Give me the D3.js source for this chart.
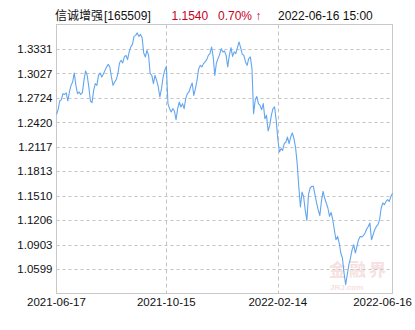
<!DOCTYPE html>
<html><head><meta charset="utf-8">
<script src="https://cdn.jsdelivr.net/npm/d3@7/dist/d3.min.js"></script>
<style>body{margin:0;background:#fff;overflow:hidden}</style>
</head><body>
<svg id="chart" width="415" height="330"></svg>
<script>
const fundName = "信诚增强";
const fundCode = "[165509]";
const latestValue = "1.1540";
const latestChange = "0.70% ↑";
const latestTime = "2022-06-16 15:00";

const yTickValues = [1.0599, 1.0903, 1.1206, 1.1510, 1.1813, 1.2117, 1.2420, 1.2724, 1.3027, 1.3331];
const xTickIndex = [0, 68, 137, 208];
const xTickLabels = ["2021-06-17", "2021-10-15", "2022-02-14", "2022-06-16"];

const navValues = [
1.2519,1.2577,1.2685,1.2702,1.2776,1.2767,1.2785,1.2685,1.2797,1.2879,
1.2921,1.3033,1.2879,1.2776,1.2797,1.2767,1.2785,1.2941,1.3058,1.3003,
1.2859,1.2685,1.2664,1.2817,1.2900,1.2879,1.3003,1.3033,1.2983,1.3016,
1.3065,1.3108,1.3140,1.3108,1.2983,1.2879,1.2921,1.2950,1.3024,1.3157,
1.3190,1.3157,1.3232,1.3252,1.3198,1.3294,1.3356,1.3388,1.3487,1.3500,
1.3530,1.3487,1.3512,1.3471,1.3281,1.3232,1.3314,1.3252,1.3024,1.3003,
1.2900,1.3003,1.2941,1.2859,1.2735,1.2838,1.2983,1.3065,1.3115,1.2652,
1.2590,1.2549,1.2590,1.2561,1.2453,1.2590,1.2673,1.2611,1.2652,1.2590,
1.2714,1.2776,1.2797,1.2859,1.2909,1.2755,1.2838,1.2941,1.3086,1.3127,
1.3108,1.3149,1.3170,1.3198,1.3252,1.3273,1.3356,1.3232,1.3003,1.3157,
1.3211,1.3264,1.3335,1.3294,1.3306,1.3252,1.3108,1.3252,1.3347,1.3239,
1.3294,1.3273,1.3347,1.3418,1.3347,1.3264,1.3252,1.3170,1.3127,1.3211,
1.3232,1.3086,1.2528,1.2693,1.2742,1.2652,1.2631,1.2577,1.2652,1.2466,
1.2507,1.2313,1.2382,1.2507,1.2590,1.2611,1.2445,1.2217,1.2052,1.2093,
1.2072,1.2155,1.2176,1.2238,1.2155,1.2238,1.2288,1.2217,1.2106,1.1907,
1.1618,1.1369,1.1556,1.1493,1.1327,1.1203,1.1522,1.1605,1.1625,1.1625,
1.1522,1.1419,1.1336,1.1261,1.1439,1.1563,1.1481,1.1419,1.1357,1.1253,
1.1302,1.1212,1.1087,1.0963,1.1004,1.0922,1.0798,1.0736,1.0550,1.0405,
1.0529,1.0653,1.0736,1.0839,1.0901,1.0798,1.0880,1.0963,1.1004,1.0997,
1.1013,1.1046,1.1096,1.1128,1.1171,1.0963,1.1025,1.1087,1.1128,1.1150,
1.1212,1.1357,1.1419,1.1398,1.1439,1.1460,1.1439,1.1501,1.1540
];

(function () {
const svg = d3.select("#chart");
const pL = 56.5, pR = 392.5, pT = 24.5, pB = 293.5;
const step = (1.3331 - 1.0599) / 9;

const x = d3.scaleLinear().domain([0, navValues.length - 1]).range([pL, pR]);
const y = d3.scaleLinear().domain([1.0599 - step, 1.3331 + step]).range([pB, pT]);

const gridColor = "#c4c4c4";
const fontNum = "'Liberation Sans', Arial, sans-serif";

// watermark
const wm = svg.append("g").attr("opacity", 0.55);
wm.append("text").attr("x", 329).attr("y", 276).attr("font-family", "'Noto Sans CJK SC', sans-serif")
  .attr("font-size", 17).attr("font-weight", "bold").attr("letter-spacing", 3).attr("fill", "#f0c8c8").text("金融界");
wm.append("text").attr("x", 330).attr("y", 290).attr("font-family", fontNum)
  .attr("font-size", 8).attr("font-weight", "bold").attr("fill", "#f0c8c8").text("JRJ.com");

// horizontal grid
svg.append("g").selectAll("line").data(yTickValues).join("line")
  .attr("x1", pL).attr("x2", pR)
  .attr("y1", d => Math.round(y(d)) + 0.5).attr("y2", d => Math.round(y(d)) + 0.5)
  .attr("stroke", gridColor).attr("stroke-dasharray", "3,3").attr("stroke-width", 1);

// vertical grid
svg.append("g").selectAll("line").data(xTickIndex.slice(1, -1)).join("line")
  .attr("x1", d => Math.round(x(d)) + 0.5).attr("x2", d => Math.round(x(d)) + 0.5)
  .attr("y1", pT).attr("y2", pB)
  .attr("stroke", gridColor).attr("stroke-dasharray", "4,3").attr("stroke-width", 1);

// frame
svg.append("rect").attr("x", pL).attr("y", pT).attr("width", pR - pL).attr("height", pB - pT)
  .attr("fill", "none").attr("stroke", "#c8c8c8").attr("stroke-width", 1);

// y labels
const yAxis = d3.axisLeft(y).tickValues(yTickValues).tickFormat(d3.format(".4f")).tickSize(0).tickPadding(4);
const gy = svg.append("g").attr("transform", `translate(${pL},0)`).call(yAxis);
gy.select(".domain").remove();
gy.selectAll("text").attr("font-family", fontNum).attr("font-size", 11.5).attr("fill", "#111");

// x labels
const gx = svg.append("g");
gx.selectAll("text").data(xTickIndex).join("text")
  .attr("x", (d, i) => i === xTickIndex.length - 1 ? 412 : x(d))
  .attr("y", 306)
  .attr("text-anchor", (d, i) => i === xTickIndex.length - 1 ? "end" : "middle")
  .attr("font-family", fontNum).attr("font-size", 11.5).attr("fill", "#111")
  .text((d, i) => xTickLabels[i]);

// line
const line = d3.line().x((d, i) => x(i)).y(d => y(d));
svg.append("path").datum(navValues).attr("d", line)
  .attr("fill", "none").attr("stroke", "#62a6ee").attr("stroke-width", 1.1).attr("stroke-linejoin", "round");

// title
const t = svg.append("g").attr("font-size", 12);
t.append("text").attr("x", 55).attr("y", 20).attr("font-family", "'Noto Sans CJK SC', sans-serif").attr("fill", "#111").text(fundName);
t.append("text").attr("x", 104).attr("y", 20).attr("font-family", fontNum).attr("fill", "#111").text(fundCode);
t.append("text").attr("x", 171.5).attr("y", 20).attr("font-family", fontNum).attr("fill", "#c8001e").text(latestValue);
t.append("text").attr("x", 218).attr("y", 20).attr("font-family", fontNum).attr("fill", "#c8001e").text(latestChange);
t.append("text").attr("x", 278).attr("y", 20).attr("font-family", fontNum).attr("fill", "#111").text(latestTime);
})();
</script>
</body></html>
